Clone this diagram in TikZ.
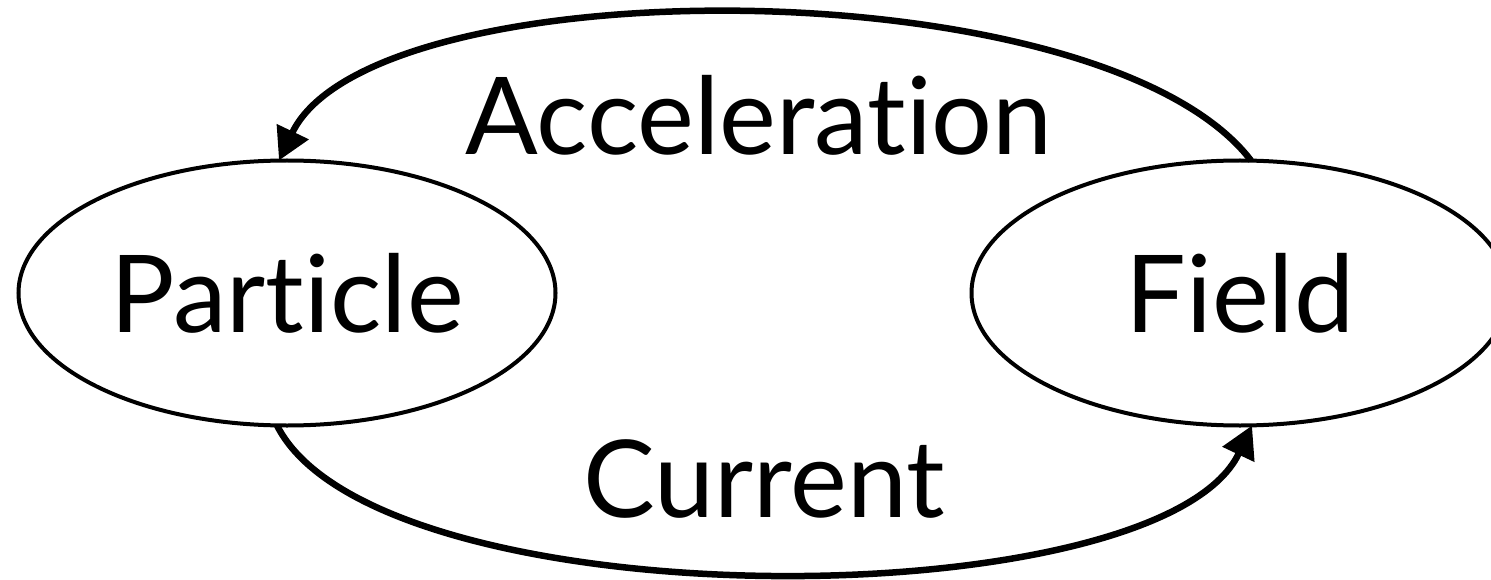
\documentclass[tikz,border=0pt]{standalone}
\usepackage{fontspec}
\setmainfont{Lato}[Ligatures={NoCommon,NoRare,NoDiscretionary}]
\usetikzlibrary{shapes.geometric,arrows.meta}
\tikzset{
  state/.style={draw, ellipse, line width=4pt, inner sep=0pt, outer sep=0pt,
    minimum width=537pt, minimum height=265pt, font=\fontsize{107.5}{110}\selectfont},
  label text/.style={anchor=base, inner sep=0pt, font=\fontsize{107.5}{110}\selectfont},
  flow/.style={line width=6.5pt, -{Triangle[length=32pt,width=34pt]}}
}
\begin{document}
\begin{tikzpicture}[x=1pt,y=-1pt]
  \useasboundingbox (0,0) rectangle (1491,580);
  % the two states
  \node[state] (P) at (287,293) {Particle};
  \node[state] (F) at (1240,293) {Field};
  % labels on the two flows
  \node[label text] (acc) at (759,155) {Acceleration};
  \node[label text] (cur) at (764,517) {Current};
  % field acts back on the particle (upper arc)
  \draw[flow] ([xshift=11pt]F.north) .. controls (1101,-35) and (372,-34) .. ([xshift=-8pt]P.north);
  % particle sources the field (lower arc)
  \draw[flow] ([xshift=-10pt]P.south) .. controls (377,623) and (1160,620) .. ([xshift=12pt]F.south);
\end{tikzpicture}
\end{document}
